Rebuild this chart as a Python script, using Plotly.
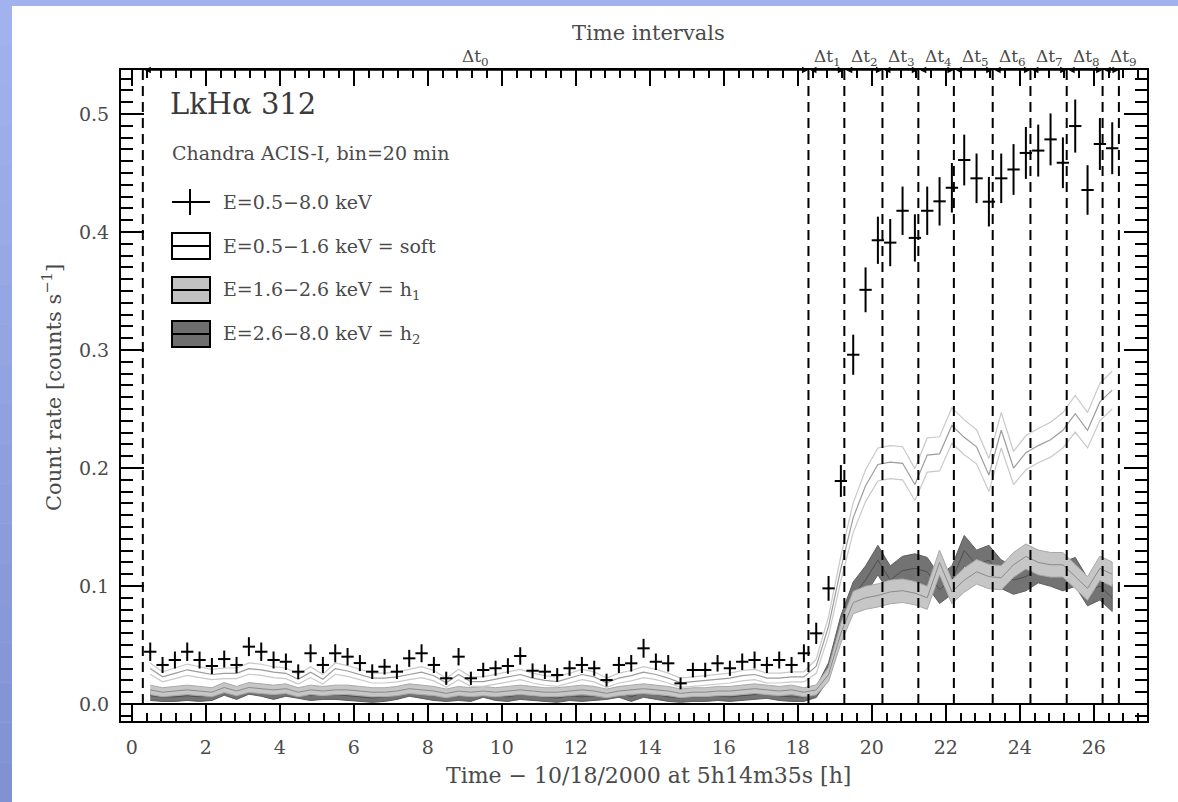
import plotly.graph_objects as go

# ---------------- data ----------------
BIN_START_H = 0.5          # centre of first 20-min bin [h]
BIN_STEP_H = 1.0 / 3.0     # 20-min bins
BIN_HALF_WIDTH_H = 1.0 / 6.0

total_rate = [
    0.0443, 0.0331, 0.0373, 0.0443, 0.0373, 0.0322, 0.0381, 0.0331, 0.0486, 0.0443,
    0.0373, 0.0358, 0.0274, 0.0430, 0.0331, 0.0430, 0.0401, 0.0347, 0.0274, 0.0316,
    0.0274, 0.0387, 0.0430, 0.0331, 0.0218, 0.0401, 0.0218, 0.0288, 0.0303, 0.0322,
    0.0407, 0.0282, 0.0274, 0.0246, 0.0303, 0.0331, 0.0303, 0.0203, 0.0331, 0.0345,
    0.0472, 0.0358, 0.0345, 0.0175, 0.0288, 0.0288, 0.0345, 0.0303, 0.0358, 0.0373,
    0.0331, 0.0373, 0.0331, 0.0430, 0.0599,
    0.098, 0.189, 0.296, 0.351,
    0.393, 0.391, 0.418, 0.395, 0.418, 0.426, 0.4375, 0.461, 0.4455, 0.4257,
    0.4455, 0.453, 0.467, 0.469, 0.4785, 0.4587, 0.4898, 0.4356, 0.4746, 0.471,
]
total_err = [
    0.0078, 0.0068, 0.0072, 0.0078, 0.0072, 0.0068, 0.0072, 0.0068, 0.0080, 0.0078,
    0.0072, 0.0070, 0.0062, 0.0076, 0.0068, 0.0076, 0.0074, 0.0068, 0.0062, 0.0066,
    0.0062, 0.0072, 0.0076, 0.0068, 0.0056, 0.0074, 0.0056, 0.0062, 0.0064, 0.0066,
    0.0074, 0.0062, 0.0062, 0.0058, 0.0064, 0.0068, 0.0064, 0.0054, 0.0068, 0.0070,
    0.0080, 0.0070, 0.0070, 0.0050, 0.0062, 0.0062, 0.0070, 0.0064, 0.0070, 0.0072,
    0.0068, 0.0072, 0.0068, 0.0076, 0.0090,
    0.0105, 0.0135, 0.0170, 0.0190,
    0.0200, 0.0200, 0.0205, 0.0200, 0.0205, 0.0205, 0.0210, 0.0215, 0.0210, 0.0210,
    0.0210, 0.0215, 0.0220, 0.0220, 0.0220, 0.0215, 0.0225, 0.0210, 0.0220, 0.0220,
]

soft_rate = [
    0.030, 0.023, 0.026, 0.029, 0.027, 0.025, 0.026, 0.026, 0.030, 0.029,
    0.027, 0.026, 0.021, 0.027, 0.021, 0.030, 0.028, 0.025, 0.022, 0.022,
    0.023, 0.025, 0.027, 0.024, 0.018, 0.025, 0.019, 0.019, 0.021, 0.023,
    0.025, 0.022, 0.020, 0.019, 0.022, 0.025, 0.023, 0.018, 0.022, 0.024,
    0.027, 0.025, 0.022, 0.018, 0.019, 0.020, 0.021, 0.022, 0.024, 0.025,
    0.022, 0.022, 0.023, 0.023, 0.032,
    0.066, 0.115, 0.158, 0.185,
    0.203, 0.205, 0.204, 0.186, 0.211, 0.212, 0.236, 0.226, 0.218, 0.194,
    0.232, 0.200, 0.213, 0.219, 0.224, 0.232, 0.246, 0.232, 0.256, 0.266,
]
soft_err = [
    0.0048, 0.0042, 0.0045, 0.0047, 0.0046, 0.0044, 0.0045, 0.0045, 0.0048, 0.0047,
    0.0046, 0.0045, 0.0041, 0.0046, 0.0041, 0.0048, 0.0046, 0.0044, 0.0042, 0.0042,
    0.0043, 0.0044, 0.0046, 0.0044, 0.0039, 0.0044, 0.0040, 0.0040, 0.0041, 0.0043,
    0.0044, 0.0042, 0.0041, 0.0040, 0.0042, 0.0044, 0.0043, 0.0039, 0.0042, 0.0044,
    0.0046, 0.0044, 0.0042, 0.0039, 0.0040, 0.0041, 0.0041, 0.0042, 0.0044, 0.0044,
    0.0042, 0.0042, 0.0043, 0.0043, 0.0060,
    0.0080, 0.0105, 0.0125, 0.0135,
    0.0140, 0.0140, 0.0140, 0.0135, 0.0145, 0.0145, 0.0150, 0.0148, 0.0145, 0.0140,
    0.0150, 0.0140, 0.0145, 0.0145, 0.0148, 0.0150, 0.0155, 0.0150, 0.0158, 0.0160,
]

h1_rate = [
    0.012, 0.010, 0.011, 0.012, 0.011, 0.010, 0.014, 0.011, 0.014, 0.013,
    0.012, 0.013, 0.010, 0.012, 0.011, 0.012, 0.012, 0.011, 0.010, 0.010,
    0.011, 0.013, 0.012, 0.011, 0.009, 0.011, 0.010, 0.011, 0.010, 0.011,
    0.012, 0.011, 0.010, 0.010, 0.011, 0.012, 0.011, 0.009, 0.011, 0.012,
    0.013, 0.012, 0.011, 0.009, 0.010, 0.010, 0.011, 0.011, 0.012, 0.013,
    0.012, 0.011, 0.012, 0.010, 0.012,
    0.025, 0.060, 0.086, 0.090,
    0.092, 0.095, 0.096, 0.094, 0.090, 0.120, 0.095, 0.105, 0.112, 0.108,
    0.107, 0.118, 0.125, 0.120, 0.118, 0.118, 0.108, 0.098, 0.115, 0.110,
]
h1_err = [
    0.0040, 0.0038, 0.0039, 0.0040, 0.0039, 0.0038, 0.0042, 0.0039, 0.0042, 0.0041,
    0.0040, 0.0041, 0.0038, 0.0040, 0.0039, 0.0040, 0.0040, 0.0039, 0.0038, 0.0038,
    0.0039, 0.0041, 0.0040, 0.0039, 0.0037, 0.0039, 0.0038, 0.0039, 0.0038, 0.0039,
    0.0040, 0.0039, 0.0038, 0.0038, 0.0039, 0.0040, 0.0039, 0.0037, 0.0039, 0.0040,
    0.0041, 0.0040, 0.0039, 0.0037, 0.0038, 0.0038, 0.0039, 0.0039, 0.0040, 0.0041,
    0.0040, 0.0039, 0.0040, 0.0038, 0.0042,
    0.0060, 0.0085, 0.0095, 0.0098,
    0.0098, 0.0100, 0.0100, 0.0099, 0.0098, 0.0105, 0.0100, 0.0102, 0.0104, 0.0103,
    0.0102, 0.0105, 0.0106, 0.0105, 0.0104, 0.0104, 0.0102, 0.0100, 0.0104, 0.0103,
]

h2_rate = [
    0.007, 0.006, 0.006, 0.007, 0.006, 0.007, 0.012, 0.008, 0.013, 0.011,
    0.008, 0.011, 0.009, 0.007, 0.008, 0.008, 0.007, 0.006, 0.005, 0.006,
    0.008, 0.011, 0.009, 0.007, 0.006, 0.007, 0.006, 0.010, 0.007, 0.006,
    0.008, 0.007, 0.006, 0.005, 0.007, 0.006, 0.007, 0.008, 0.010, 0.006,
    0.010, 0.008, 0.006, 0.005, 0.006, 0.006, 0.007, 0.006, 0.007, 0.008,
    0.009, 0.007, 0.006, 0.006, 0.010,
    0.028, 0.065, 0.092, 0.105,
    0.122, 0.105, 0.113, 0.115, 0.112, 0.097, 0.105, 0.130, 0.118, 0.122,
    0.110, 0.105, 0.108, 0.115, 0.112, 0.108, 0.112, 0.095, 0.100, 0.090,
]
h2_err = [
    0.0040, 0.0038, 0.0038, 0.0040, 0.0038, 0.0040, 0.0046, 0.0041, 0.0047, 0.0044,
    0.0041, 0.0044, 0.0042, 0.0040, 0.0041, 0.0041, 0.0040, 0.0038, 0.0036, 0.0038,
    0.0041, 0.0044, 0.0042, 0.0040, 0.0038, 0.0040, 0.0038, 0.0043, 0.0040, 0.0038,
    0.0041, 0.0040, 0.0038, 0.0036, 0.0040, 0.0038, 0.0040, 0.0041, 0.0043, 0.0038,
    0.0043, 0.0041, 0.0038, 0.0036, 0.0038, 0.0038, 0.0040, 0.0038, 0.0040, 0.0041,
    0.0042, 0.0040, 0.0038, 0.0038, 0.0045,
    0.0070, 0.0100, 0.0115, 0.0120,
    0.0125, 0.0120, 0.0122, 0.0123, 0.0122, 0.0118, 0.0120, 0.0128, 0.0124, 0.0125,
    0.0121, 0.0120, 0.0121, 0.0123, 0.0122, 0.0121, 0.0122, 0.0118, 0.0119, 0.0116,
]

interval_edges = [0.30, 18.29, 19.26, 20.29, 21.26, 22.22, 23.27, 24.29, 25.27, 26.24, 26.68]
interval_label_pos = [9.3, 18.8, 19.8, 20.8, 21.8, 22.8, 23.8, 24.8, 25.8, 26.8]
interval_labels = ["Δt<sub>0</sub>", "Δt<sub>1</sub>", "Δt<sub>2</sub>", "Δt<sub>3</sub>",
                   "Δt<sub>4</sub>", "Δt<sub>5</sub>", "Δt<sub>6</sub>", "Δt<sub>7</sub>",
                   "Δt<sub>8</sub>", "Δt<sub>9</sub>"]

x_tick_vals = [0, 2, 4, 6, 8, 10, 12, 14, 16, 18, 20, 22, 24, 26]
y_tick_vals = [0.0, 0.1, 0.2, 0.3, 0.4, 0.5]
X_RANGE = [-0.29, 27.44]
Y_RANGE = [-0.0144, 0.5373]

times = [BIN_START_H + i * BIN_STEP_H for i in range(len(total_rate))]

# ---------------- layout geometry (pixels) ----------------
W, H = 1178, 802
PLOT_L, PLOT_R, PLOT_T, PLOT_B = 121, 1147, 70, 721


def PX(px):
    return (px - PLOT_L) / (PLOT_R - PLOT_L)


def PY(py):
    return (PLOT_B - py) / (PLOT_B - PLOT_T)


SERIF = "DejaVu Serif"
TXT = "#4a4a4a"

fig = go.Figure()


def band(rate, err, fill, edge, centre, width_c):
    up = [r + e for r, e in zip(rate, err)]
    lo = [r - e for r, e in zip(rate, err)]
    fig.add_trace(go.Scatter(x=times + times[::-1], y=up + lo[::-1], fill="toself",
                             fillcolor=fill, mode="lines",
                             line=dict(color=edge, width=1), hoverinfo="skip",
                             showlegend=False))
    fig.add_trace(go.Scatter(x=times, y=rate, mode="lines",
                             line=dict(color=centre, width=width_c),
                             hoverinfo="skip", showlegend=False))


# hard bands (dark h2 under light h1)
band(h2_rate, h2_err, "#737373", "#5e5e5e", "#4f4f4f", 1)
band(h1_rate, h1_err, "#c6c6c6", "#a9a9a9", "#8a8a8a", 1)

# soft band: three thin gray lines
soft_up = [r + e for r, e in zip(soft_rate, soft_err)]
soft_lo = [r - e for r, e in zip(soft_rate, soft_err)]
for yy, col in ((soft_up, "#c9c9c9"), (soft_rate, "#9c9c9c"), (soft_lo, "#c9c9c9")):
    fig.add_trace(go.Scatter(x=times, y=yy, mode="lines", line=dict(color=col, width=1.2),
                             hoverinfo="skip", showlegend=False))

# total count-rate crosses
fig.add_trace(go.Scatter(
    x=times, y=total_rate, mode="markers",
    marker=dict(size=2, color="black"),
    error_x=dict(type="constant", value=BIN_HALF_WIDTH_H, color="black", thickness=2, width=0),
    error_y=dict(type="data", array=total_err, color="black", thickness=2, width=0),
    showlegend=False))

shapes = []
annotations = []

# page background: blue frame (gradient on the left strip) + white panel
shapes.append(dict(type="rect", xref="paper", yref="paper", x0=PX(0), x1=PX(W), y0=PY(0), y1=PY(H),
                   fillcolor="#a2b2ee", line=dict(width=0), layer="below"))
n_band = 20
c0 = (162, 178, 238)
c1 = (128, 146, 210)
for k in range(n_band):
    f = k / (n_band - 1)
    col = "rgb(%d,%d,%d)" % tuple(round(a + (b - a) * f) for a, b in zip(c0, c1))
    ya = 6 + (H - 6) * k / n_band
    yb = 6 + (H - 6) * (k + 1) / n_band
    shapes.append(dict(type="rect", xref="paper", yref="paper", x0=PX(0), x1=PX(12),
                       y0=PY(yb), y1=PY(ya), fillcolor=col, line=dict(width=0), layer="below"))
shapes.append(dict(type="rect", xref="paper", yref="paper", x0=PX(12), x1=PX(W), y0=PY(H), y1=PY(6),
                   fillcolor="white", line=dict(width=0), layer="below"))

# dashed interval boundaries
for e in interval_edges:
    shapes.append(dict(type="line", xref="x", yref="y", x0=e, x1=e, y0=0, y1=Y_RANGE[1],
                       line=dict(color="black", width=2, dash="10px,6px")))

# interval arrows along the top axis
for a, b in zip(interval_edges[:-1], interval_edges[1:]):
    annotations.append(dict(x=b, y=1, xref="x", yref="paper", ax=a, ay=0, axref="x", ayref="pixel",
                            text="", showarrow=True, arrowside="end+start", arrowhead=2,
                            startarrowhead=2, arrowsize=1, startarrowsize=1, arrowwidth=1.3,
                            arrowcolor="black", standoff=0, startstandoff=0))

for pos, lab in zip(interval_label_pos, interval_labels):
    annotations.append(dict(x=pos, y=PY(57), xref="x", yref="paper", text=lab, showarrow=False,
                            font=dict(family=SERIF, size=17, color=TXT), xanchor="center",
                            yanchor="middle"))

annotations.append(dict(x=PX(648), y=PY(33), xref="paper", yref="paper", text="Time intervals",
                        showarrow=False, font=dict(family=SERIF, size=21, color=TXT),
                        xanchor="center", yanchor="middle"))
annotations.append(dict(x=PX(648), y=PY(775), xref="paper", yref="paper",
                        text="Time − 10/18/2000 at 5h14m35s [h]", showarrow=False,
                        font=dict(family=SERIF, size=22, color=TXT), xanchor="center", yanchor="middle"))
annotations.append(dict(x=PX(52), y=PY(388), xref="paper", yref="paper",
                        text="Count rate [counts s<sup>−1</sup>]", showarrow=False, textangle=-90,
                        font=dict(family=SERIF, size=21, color=TXT), xanchor="center", yanchor="middle"))

# in-plot legend
annotations.append(dict(x=PX(168), y=PY(104), xref="paper", yref="paper", text="LkHα 312",
                        showarrow=False, font=dict(family=SERIF, size=29, color="#3a3a3a"),
                        xanchor="left", yanchor="middle"))
annotations.append(dict(x=PX(170), y=PY(153), xref="paper", yref="paper",
                        text="Chandra ACIS-I, bin=20 min", showarrow=False,
                        font=dict(family=SERIF, size=19, color=TXT), xanchor="left", yanchor="middle"))

# cross symbol
shapes.append(dict(type="line", xref="paper", yref="paper", x0=PX(172), x1=PX(210), y0=PY(202), y1=PY(202),
                   line=dict(color="black", width=2)))
shapes.append(dict(type="line", xref="paper", yref="paper", x0=PX(190), x1=PX(190), y0=PY(189), y1=PY(215),
                   line=dict(color="black", width=2)))
legend_rows = [
    (202, None, "E=0.5−8.0 keV"),
    (246, "white", "E=0.5−1.6 keV = soft"),
    (290, "#c2c2c2", "E=1.6−2.6 keV = h<sub>1</sub>"),
    (334, "#6e6e6e", "E=2.6−8.0 keV = h<sub>2</sub>"),
]
for yc, fill, lab in legend_rows:
    if fill is not None:
        shapes.append(dict(type="rect", xref="paper", yref="paper", x0=PX(172), x1=PX(210),
                           y0=PY(yc + 13), y1=PY(yc - 13), fillcolor=fill,
                           line=dict(color="black", width=2)))
        shapes.append(dict(type="line", xref="paper", yref="paper", x0=PX(172), x1=PX(210),
                           y0=PY(yc), y1=PY(yc), line=dict(color="black", width=2)))
    annotations.append(dict(x=PX(221), y=PY(yc), xref="paper", yref="paper", text=lab,
                            showarrow=False, font=dict(family=SERIF, size=19, color=TXT),
                            xanchor="left", yanchor="middle"))

fig.update_layout(
    width=W, height=H,
    margin=dict(l=PLOT_L, r=W - PLOT_R, t=PLOT_T, b=H - PLOT_B),
    paper_bgcolor="#a2b2ee", plot_bgcolor="white",
    shapes=shapes, annotations=annotations, showlegend=False,
    font=dict(family=SERIF, color=TXT),
)
fig.update_xaxes(range=X_RANGE, tickmode="array", tickvals=x_tick_vals,
                 ticktext=[str(v) for v in x_tick_vals],
                 ticks="inside", ticklen=16, tickwidth=2, tickcolor="black",
                 showline=True, linecolor="black", linewidth=2, mirror="ticks",
                 showgrid=False, zeroline=False,
                 minor=dict(dtick=0.4, tick0=0, ticks="inside", ticklen=8, tickwidth=2, tickcolor="black"),
                 tickfont=dict(family=SERIF, size=19, color=TXT), ticklabelstandoff=8)
fig.update_yaxes(range=Y_RANGE, tickmode="array", tickvals=y_tick_vals,
                 ticktext=["%.1f" % v for v in y_tick_vals],
                 ticks="inside", ticklen=23, tickwidth=2, tickcolor="black",
                 showline=True, linecolor="black", linewidth=2, mirror="ticks",
                 showgrid=False, zeroline=True, zerolinecolor="black", zerolinewidth=2,
                 minor=dict(dtick=0.01, tick0=0, ticks="inside", ticklen=12, tickwidth=2, tickcolor="black"),
                 tickfont=dict(family=SERIF, size=19, color=TXT), ticklabelstandoff=6)

fig.write_html("out.html")
